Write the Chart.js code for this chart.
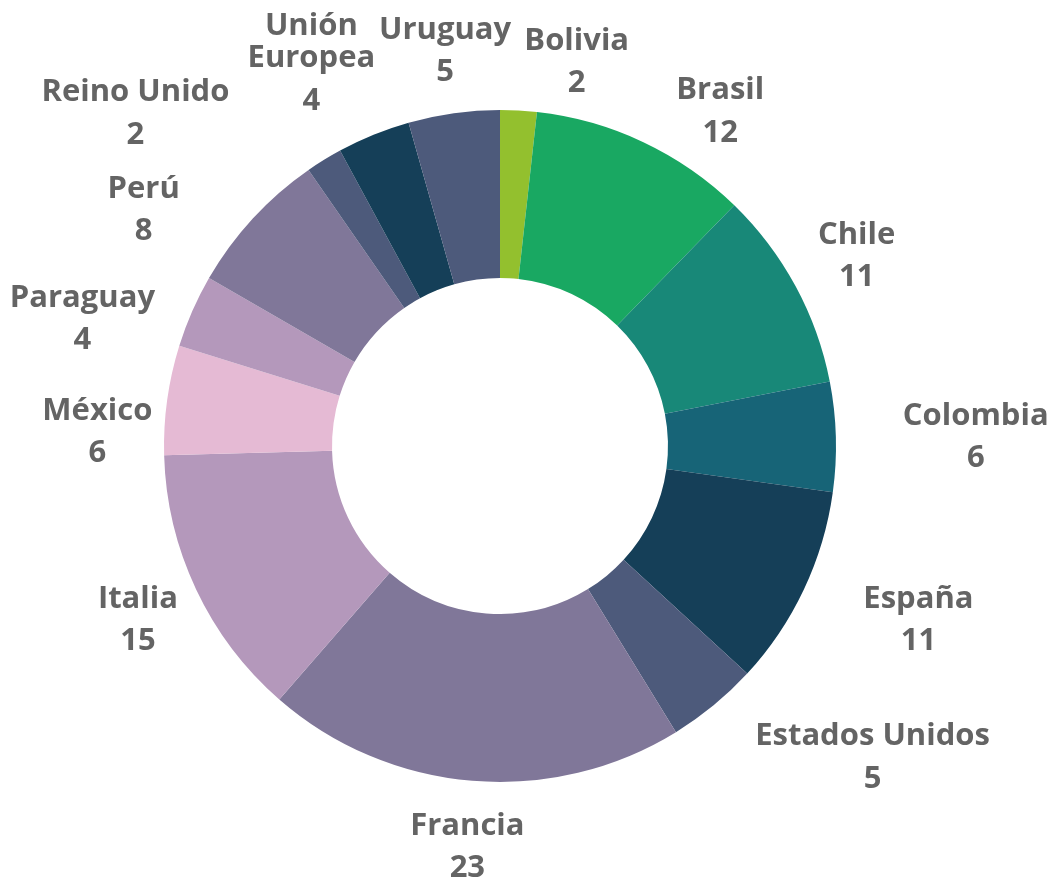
<!DOCTYPE html>
<html>
<head>
<meta charset="utf-8">
<script src="https://cdn.jsdelivr.net/npm/chart.js@4.4.1/dist/chart.umd.min.js"></script>
<style>
  html, body { margin: 0; padding: 0; background: #ffffff; }
  #wrap { width: 1051px; height: 882px; position: relative; }
</style>
</head>
<body>
<div id="wrap"><canvas id="c" width="1051" height="882"></canvas></div>
<script>
// ---- data ----
const categories = ['Bolivia', 'Brasil', 'Chile', 'Colombia', 'España', 'Estados Unidos', 'Francia',
  'Italia', 'México', 'Paraguay', 'Perú', 'Reino Unido', 'Unión Europea', 'Uruguay'];
const values = [2, 12, 11, 6, 11, 5, 23, 15, 6, 4, 8, 2, 4, 5];

// ---- styling ----
const sliceColors = ['#93C02E', '#19A862', '#188878', '#176477', '#153F58', '#4D5A7B', '#807799',
  '#B498BB', '#E5BAD4', '#B498BB', '#807799', '#4D5A7B', '#153F58', '#4D5A7B'];
const wrapLabels = ['Unión Europea'];
// label nudges (px) relative to the automatic outside position
const labelNudge = [[55, 9], [47, 33], [0, 3], [48, 3], [39, -5], [82, -41], [0, 7],
  [5, 1], [7, 43], [-19, 48], [-58, 39], [-137, 38], [-28, 13], [0, 1]];
const FONT_SIZE = 31;
const FONT = 'bold ' + FONT_SIZE + 'px "Open Sans", sans-serif';
const TEXT_COLOR = '#646464';
const WRAP_GAP = 32;
const VALUE_GAP = 42.5;
const LABEL_GAP = 18;

const outsideLabels = {
  id: 'outsideLabels',
  afterDatasetsDraw(chart) {
    const ctx = chart.ctx;
    const meta = chart.getDatasetMeta(0);
    ctx.save();
    ctx.font = FONT;
    ctx.fillStyle = TEXT_COLOR;
    ctx.textAlign = 'center';
    ctx.textBaseline = 'middle';
    meta.data.forEach((arc, i) => {
      const p = arc.getProps(['x', 'y', 'startAngle', 'endAngle', 'outerRadius'], true);
      const mid = (p.startAngle + p.endAngle) / 2;
      const name = categories[i];
      const nameLines = wrapLabels.includes(name) ? name.split(' ') : [name];
      const lines = nameLines.concat([String(values[i])]);
      let w = 0;
      lines.forEach(l => { w = Math.max(w, ctx.measureText(l).width); });
      const offs = [];
      let y = 0;
      nameLines.forEach((l, k) => { offs.push(y); if (k < nameLines.length - 1) y += WRAP_GAP; });
      y += VALUE_GAP;
      offs.push(y);
      const h = y + FONT_SIZE;
      const c = Math.cos(mid), s = Math.sin(mid);
      const d = p.outerRadius + LABEL_GAP + (w / 2) * Math.abs(c) + (h / 2) * Math.abs(s);
      const cx = p.x + d * c + labelNudge[i][0];
      const cy = p.y + d * s + labelNudge[i][1];
      const top = cy - y / 2;
      lines.forEach((l, k) => ctx.fillText(l, cx, top + offs[k]));
    });
    ctx.restore();
  }
};

new Chart(document.getElementById('c'), {
  type: 'doughnut',
  data: {
    labels: categories,
    datasets: [{
      data: values,
      backgroundColor: sliceColors,
      borderWidth: 0,
      hoverOffset: 0
    }]
  },
  options: {
    responsive: false,
    animation: false,
    cutout: '50%',
    layout: { padding: { left: 164, right: 215, top: 110, bottom: 100 } },
    plugins: {
      legend: { display: false },
      tooltip: { enabled: false }
    }
  },
  plugins: [outsideLabels]
});
</script>
</body>
</html>
